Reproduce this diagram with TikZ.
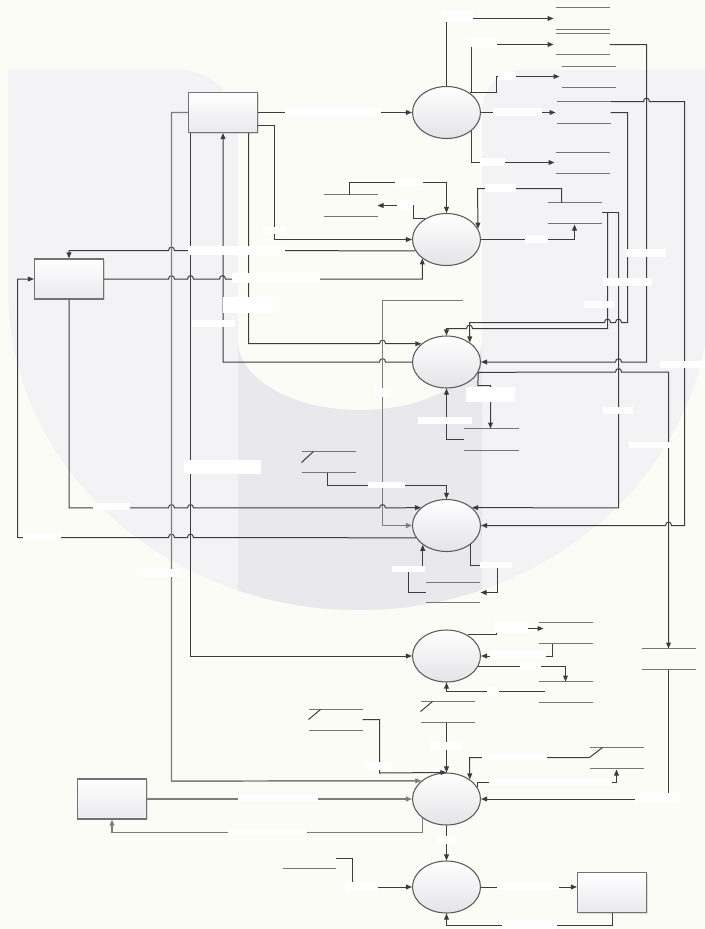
\documentclass[tikz,border=0pt]{standalone}
\usetikzlibrary{arrows.meta,calc,shapes.geometric,shadows}
\definecolor{pagec}{RGB}{252,252,247}
\definecolor{ulight}{RGB}{243,243,246}
\definecolor{uband}{RGB}{233,233,237}
\definecolor{connc}{RGB}{60,60,60}
\definecolor{gconnc}{RGB}{125,125,125}
\definecolor{storec}{RGB}{118,118,118}
\definecolor{ellc}{RGB}{90,90,90}
\definecolor{ellb}{RGB}{228,228,232}
\definecolor{boxc}{RGB}{115,115,115}
\definecolor{boxb}{RGB}{234,234,238}
\begin{document}
\begin{tikzpicture}[x=0.75pt,y=-0.75pt,
  conn/.style={draw=connc, line width=0.75pt},
  gconn/.style={draw=gconnc, line width=1.1pt},
  arr/.style={-{Triangle[length=4.5pt,width=3.6pt]}},
  dstore/.style={draw=storec, line width=1.1pt},
  proc/.style={ellipse, draw=ellc, line width=0.8pt, minimum width=51pt, minimum height=39pt, inner sep=0pt, top color=white, bottom color=ellb},
  ent/.style={rectangle, draw=boxc, line width=0.9pt, minimum width=51.75pt, minimum height=30pt, inner sep=0pt, top color=white, bottom color=boxb, drop shadow={shadow xshift=0.8pt, shadow yshift=-0.8pt, opacity=0.25}},
  lbl/.style={fill=white}
]
\useasboundingbox (0,0) rectangle (705,929);
% ---------- background watermark ----------
\fill[pagec] (0,0) rectangle (705,929);
\fill[ulight] (8,70) -- (180,70) .. controls (212,70) and (238,96) .. (238,128) -- (238,200) -- (482,200) -- (482,111) .. controls (482,88) and (500,70) .. (523,70) -- (710,70) -- (710,290) .. controls (710,466.7) and (552.9,610) .. (359,610) .. controls (165.1,610) and (8,466.7) .. (8,290) -- cycle;
\begin{scope}
\clip (238,0) rectangle (482,929);
\fill[uband] (0,200) -- (710,200) -- (710,290) .. controls (710,466.7) and (552.9,610) .. (359,610) .. controls (165.1,610) and (8,466.7) .. (8,290) -- cycle;
\end{scope}
\fill[pagec] (238,60) -- (238,340) .. controls (238,378.7) and (292.6,410) .. (360,410) .. controls (427.4,410) and (482,378.7) .. (482,340) -- (482,60) -- cycle;

\begin{scope}[shift={(0.5,0.5)}]
% ---------- nodes ----------
\node[ent] (boxA) at (222.5,112) {};
\node[ent] (boxB) at (68.5,278.5) {};
\node[ent] (boxC) at (111.5,798.5) {};
\node[ent] (boxD) at (611.5,892) {};
\node[proc] (e1) at (446,112) {};
\node[proc] (e2) at (446,239) {};
\node[proc] (e3) at (446,361.5) {};
\node[proc] (e4) at (446,525) {};
\node[proc] (e6) at (446,655.5) {};
\node[proc] (e7) at (446,798.5) {};
\node[proc] (e8) at (446,886.5) {};

% ---------- data stores ----------
\draw[dstore] (555,7) -- (609,7) (555,29) -- (609,29);
\draw[dstore] (555,33) -- (609,33) (555,54) -- (609,54);
\draw[dstore] (561,66) -- (615,66) (561,87) -- (615,87);
\draw[dstore] (556,101) -- (610,101) (556,123) -- (610,123);
\draw[dstore] (555,152) -- (609,152) (555,173) -- (609,173);
\draw[dstore] (547,202) -- (601,202) (547,223) -- (601,223);
\draw[dstore] (323,194) -- (377,194) (323,216) -- (377,216);
\draw[dstore] (301,451) -- (355,451) (301,472) -- (355,472);
\draw[conn] (301,462) -- (313,451);
\draw[dstore] (463,428) -- (518,428) (463,450) -- (518,450);
\draw[dstore] (425,582) -- (479,582) (425,602) -- (479,602);
\draw[dstore] (641,648) -- (695,648) (641,669) -- (695,669);
\draw[dstore] (538,622) -- (592,622) (538,643) -- (592,643);
\draw[dstore] (538,681) -- (592,681) (538,702) -- (592,702);
\draw[dstore] (420,701) -- (474,701) (420,722) -- (474,722);
\draw[conn] (420,711) -- (432,701);
\draw[dstore] (308,709) -- (362,709) (308,730) -- (362,730);
\draw[conn] (308,719) -- (320,709);
\draw[dstore] (589,747) -- (643,747) (589,768) -- (643,768);
\draw[conn] (589,757) -- (602,747);
\draw[dstore] (282,868) -- (335,868);

% ---------- process 1 ----------
\draw[conn,arr] (boxA.east) -- (e1.west);
\draw[conn,arr] (e1.north) -- (446,18) -- (553,18);
\draw[conn,arr] (e1.40) -| (471,44) -- (553,44);
\draw[conn,arr] (e1.40) -| (496,76) -- (559,76);
\draw[conn,arr] (e1.east) -- (555,112);
\draw[conn,arr] (e1.-37.5) |- (554,162);

% ---------- process 2 ----------
\draw[conn,arr] ($(boxA.east)+(0,13)$) -| (274,239) -- (e2.west);
\draw[conn,arr] (e2.-160) -- (174,250) .. controls (174,245.5) and (168,245.5) .. (168,250) -- (68.5,250) -- (boxB.north);
\draw[conn,arr] (boxB.east) -- (168,278.5) .. controls (168,274) and (174,274) .. (174,278.5) -- (187,278.5) .. controls (187,274) and (193,274) .. (193,278.5) -- (219,278.5) .. controls (219,274) and (225,274) .. (225,278.5) -| (e2.-142.5);
\draw[conn,arr] (e2.136) -| (413,205) -- (377,205);
\draw[conn,arr] (349,194) |- (446,182) -- (e2.north);
\draw[conn,arr] (e2.east) -| (574,224);
\draw[conn,arr] (561,202) |- (477,188) -- (e2.19);

% ---------- process 3 ----------
\draw[conn,arr] ($(boxA.south)+(25.5,0)$) -- (248,343) -- (379,343) .. controls (379,338.5) and (385,338.5) .. (385,343) -- (e3.144);
\draw[conn,arr] (e3.west) -- (385,361.5) .. controls (385,357) and (379,357) .. (379,361.5) -- (222.5,361.5) -- (boxA.south);
\draw[conn,arr] (610,112) -| (627,322) -- (621,322) .. controls (621,317.5) and (615,317.5) .. (615,322) -- (610,322) .. controls (610,317.5) and (604,317.5) .. (604,322) -- (469,322) -- (e3.40);
\draw[conn] (601,212) -- (618,212);
\draw[conn,arr] (607,212) -- (607,328) -- (472,328) .. controls (472,323.5) and (466,323.5) .. (466,328) -- (446,328) -- (e3.north);
\draw[conn,arr] (609,44) -| (646,361.5) -- (621,361.5) .. controls (621,357) and (615,357) .. (615,361.5) -- (e3.east);
\draw[conn,arr] (e3.-18) -- (615,371.5) .. controls (615,367) and (621,367) .. (621,371.5) -- (668,371.5) -- (668,648);
\draw[conn,arr] (e3.-18) -- (477.3,385) -- (490,385) -- (490,428);
\draw[conn,arr] (463,439) -| (e3.south);

% ---------- process 4 ----------
\draw[gconn,arr] (462,300) -- (382,300) -- (382,525) -- (e4.west);
\draw[conn,arr] (618,212) -- (618,507.4) -- (e4.35);
\draw[conn,arr] (610,101) -- (643,101) .. controls (643,96.5) and (649,96.5) .. (649,101) -- (684,101) -- (684,525) -- (671,525) .. controls (671,520.5) and (665,520.5) .. (665,525) -- (e4.east);
\draw[conn,arr] (boxB.south) -- (68.5,507.4) -- (168,507.4) .. controls (168,503) and (174,503) .. (174,507.4) -- (187,507.4) .. controls (187,503) and (193,503) .. (193,507.4) -- (379,507.4) .. controls (379,503) and (385,503) .. (385,507.4) -- (e4.145);
\draw[conn,arr] (e4.-158.5) -- (193,537) .. controls (193,532.5) and (187,532.5) .. (187,537) -- (174,537) .. controls (174,532.5) and (168,532.5) .. (168,537) -- (17,537) |- (boxB.west);
\draw[conn,arr] (327,472) |- (446,485) -- (e4.north);
\draw[conn,arr] (e4.-38.5) |- (497,565) -- (497,592) -- (480,592);
\draw[conn,arr] (425,592) -- (408,592) -- (408,566) -| (e4.-141.5);

% ---------- process 6 ----------
\draw[conn,arr] ($(boxA.south)+(-32.5,0)$) |- (e6.west);
\draw[conn,arr] (e6.45) -| (496,628) -- (543,628);
\draw[conn,arr] (552,643) |- (e6.east);
\draw[conn,arr] (e6.-19.6) -| (565,681);
\draw[conn,arr] (544,691) -| (e6.south);

% ---------- process 7 ----------
\draw[gconn,arr] (boxA.west) -| (171,780.6) -- (e7.144);
\draw[conn,arr] (362,719) -| (379,772.5) -- (e7.north);
\draw[conn,arr] (446,722) -- (e7.north);
\draw[conn,arr] (589,757) -- (469,757) -- (e7.40);
\draw[conn,arr] (e7.22.6) |- (616,782) -- (616,769);
\draw[conn,arr] (668,669) |- (e7.east);
\draw[gconn,arr] (boxC.east) -- (e7.west);
\draw[gconn,arr] (e7.-141.6) |- (111.5,832) -- (boxC.south);
\draw[conn,arr] (e7.south) -- (e8.north);

% ---------- process 8 ----------
\draw[conn,arr] (335,858) -- (352,858) -- (352,886.5) -- (e8.west);
\draw[conn,arr] (e8.east) -- (e8.east -| boxD.west);
\draw[conn,arr] (boxD.south) |- (446,925) -- (e8.south);
\end{scope}

% ---------- label patches ----------
\fill[lbl] (441,11) rectangle (473,22);
\fill[lbl] (466,38) rectangle (497,47);
\fill[lbl] (498,72) rectangle (516,80);
\fill[lbl] (493,108) rectangle (542,116);
\fill[lbl] (480,158) rectangle (505,166);
\fill[lbl] (485,184) rectangle (516,192);
\fill[lbl] (525,235) rectangle (548,243);
\fill[lbl] (627,249) rectangle (666,257);
\fill[lbl] (603,278) rectangle (652,286);
\fill[lbl] (584,301) rectangle (614,308);
\fill[lbl] (285,108) rectangle (381,116);
\fill[lbl] (263,227) rectangle (285,234);
\fill[lbl] (188,246) rectangle (285,255);
\fill[lbl] (232,273) rectangle (320,283);
\fill[lbl] (395,178) rectangle (423,186);
\fill[lbl] (397,200) rectangle (413,210);
\fill[lbl] (223,297) rectangle (273,313);
\fill[lbl] (192,320) rectangle (235,327);
\fill[lbl] (660,361) rectangle (705,368);
\fill[lbl] (603,407) rectangle (633,414);
\fill[lbl] (629,442) rectangle (672,448);
\fill[lbl] (466,387) rectangle (515,402);
\fill[lbl] (418,417) rectangle (472,424);
\fill[lbl] (375,388) rectangle (390,397);
\fill[lbl] (368,482) rectangle (405,488);
\fill[lbl] (392,566) rectangle (425,572);
\fill[lbl] (480,562) rectangle (512,568);
\fill[lbl] (93,503) rectangle (130,510);
\fill[lbl] (23,533) rectangle (61,540);
\fill[lbl] (143,569) rectangle (180,577);
\fill[lbl] (184,460) rectangle (261,474);
\fill[lbl] (494,621) rectangle (528,632.5);
\fill[lbl] (490,651) rectangle (546,659);
\fill[lbl] (520,662) rectangle (541,670);
\fill[lbl] (487,687) rectangle (499,695);
\fill[lbl] (430,742) rectangle (462,750);
\fill[lbl] (365,762) rectangle (392,770);
\fill[lbl] (482,754) rectangle (547,760);
\fill[lbl] (489,779) rectangle (612,785);
\fill[lbl] (635,793) rectangle (680,803);
\fill[lbl] (238,795) rectangle (318,801);
\fill[lbl] (228,829) rectangle (307,835);
\fill[lbl] (437,836) rectangle (456,844);
\fill[lbl] (345,882) rectangle (378,891);
\fill[lbl] (497,882) rectangle (559,890);
\fill[lbl] (502,921) rectangle (557,929);
\end{tikzpicture}
\end{document}
